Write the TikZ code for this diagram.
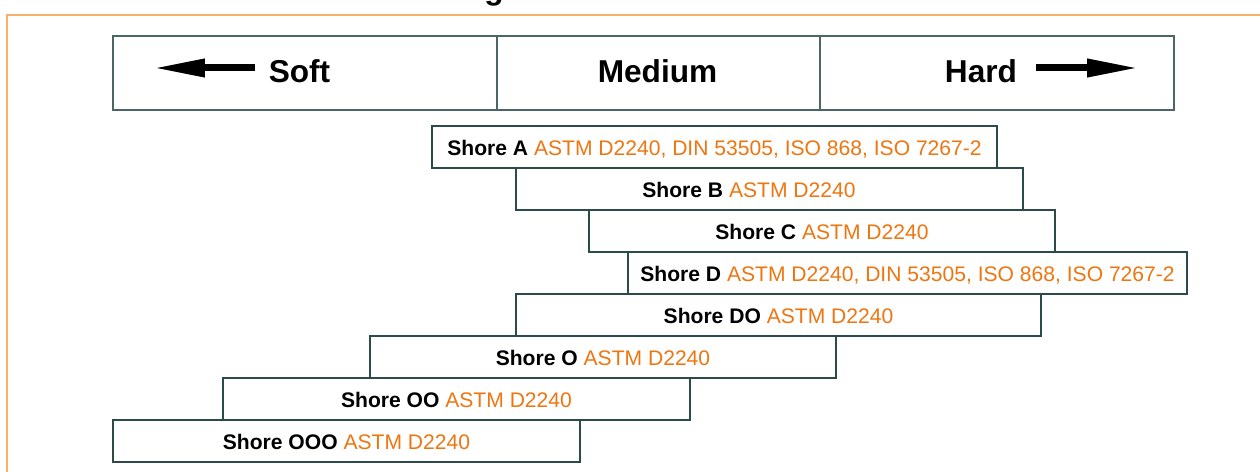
\documentclass[tikz,border=0pt]{standalone}
\usepackage{fontspec}
\setmainfont{Liberation Sans}
\definecolor{stdorange}{HTML}{EE7611}
\definecolor{frameorange}{HTML}{F8B06C}
\definecolor{boxline}{HTML}{2B4B4B}
\usepackage{tikz}
\usetikzlibrary{arrows.meta, positioning}
\tikzset{
	scalecell/.style={
			draw=boxline!85,
			line width=0.8pt,
			minimum height=1.48cm,
			inner sep=0pt
		},
	scaletext/.style={
			font=\fontsize{18}{20}\selectfont\bfseries,
			inner sep=0pt
		},
	shoretext/.style={
			font=\fontsize{12}{14}\selectfont,
			text height=10pt,
			text depth=0pt
		},
	shorebox/.style={
			shoretext,
			draw=boxline,
			line width=0.8pt,
			fill=white,
			minimum height=0.84cm,
			inner sep=0pt
		},
	bigarrow/.style={
			line width=0.14cm,
			-{Triangle[length=1.04cm, width=0.34cm]}
		}
}

\begin{document}
\begin{tikzpicture}[x=0.02cm, y=-0.02cm]
\clip (0,0) rectangle (1260,472);

% frame and cut title
\draw[frameorange, line width=0.8pt] (1270,15) -| (7,480);
\node[scaletext, anchor=base] (ttl) at (494,0) {g};

% hardness scale
\node[scalecell, minimum width=7.68cm] (soft) at (305,73) {};
\node[scalecell, minimum width=6.46cm] (medium) at (658.5,73) {};
\node[scalecell, minimum width=7.08cm] (hard) at (997,73) {};
\node[scaletext] (tsoft) at (299.5,71) {Soft};
\node[scaletext] (tmedium) at (657.5,71) {Medium};
\node[scaletext] (thard) at (981,71) {Hard};

\coordinate (softtail) at (255,68);
\coordinate (softtip) at (153,68);
\coordinate (hardtail) at (1036,68);
\coordinate (hardtip) at (1139,68);
\draw[bigarrow] (softtail) -- (softtip);
\draw[bigarrow] (hardtail) -- (hardtip);

% durometer types
\node[shorebox, minimum width=11.30cm] (sA) at (714.5,147) {\textbf{Shore A} {\color{stdorange}ASTM D2240, DIN 53505, ISO 868, ISO 7267-2}};
\node[shorebox, minimum width=10.14cm] (sB) at (769.5,189) {};
\node[shoretext, inner sep=0pt] (tB) at (749,189) {\textbf{Shore B} {\color{stdorange}ASTM D2240}};
\node[shorebox, minimum width=9.32cm] (sC) at (822,231) {\textbf{Shore C} {\color{stdorange}ASTM D2240}};
\node[shorebox, minimum width=11.18cm] (sD) at (907.5,273) {\textbf{Shore D} {\color{stdorange}ASTM D2240, DIN 53505, ISO 868, ISO 7267-2}};
\node[shorebox, minimum width=10.50cm] (sDO) at (778.5,315) {\textbf{Shore DO} {\color{stdorange}ASTM D2240}};
\node[shorebox, minimum width=9.32cm] (sO) at (603,357) {\textbf{Shore O} {\color{stdorange}ASTM D2240}};
\node[shorebox, minimum width=9.34cm] (sOO) at (456.5,399) {\textbf{Shore OO} {\color{stdorange}ASTM D2240}};
\node[shorebox, minimum width=9.34cm] (sOOO) at (346.5,441) {\textbf{Shore OOO} {\color{stdorange}ASTM D2240}};

\end{tikzpicture}
\end{document}
